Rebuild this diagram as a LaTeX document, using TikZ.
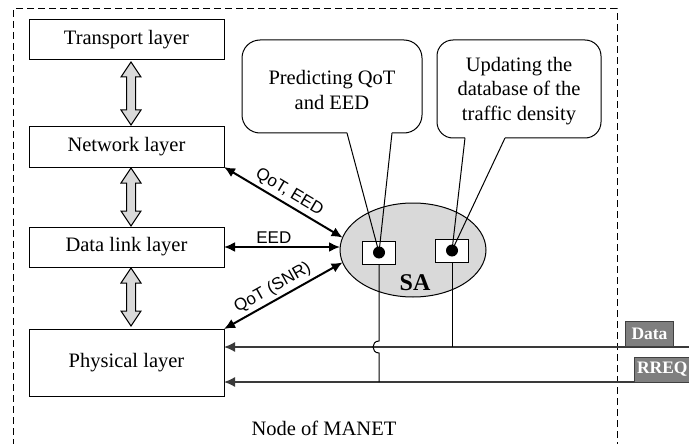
\documentclass[tikz,border=0pt]{standalone}
\usepackage{fontspec}
\setmainfont{Liberation Serif}
\newfontfamily\labfont{Liberation Sans}
\usetikzlibrary{arrows.meta,shapes.geometric}
\definecolor{lgray}{HTML}{D9D9D9}
\definecolor{tgray}{HTML}{7F7F7F}
\definecolor{lgrey}{HTML}{3A3A3A}
\begin{document}
\begin{tikzpicture}[x=1pt,y=-1pt,
  every node/.style={inner sep=0pt, outer sep=0pt, font=\fontsize{20.5}{24.5}\selectfont},
  layer/.style={draw, line width=1pt, minimum width=195pt},
  sarrow/.style={line width=2pt, {Latex[length=11pt,width=10pt]}-{Latex[length=11pt,width=10pt]}},
  inarrow/.style={line width=1.5pt, draw=lgrey, -{Latex[length=11pt,width=10pt]}},
  lab/.style={font=\labfont\fontsize{17}{19}\selectfont, sloped, above=4pt},
  tagbox/.style={fill=tgray, draw=black!75, line width=1pt, text=white, anchor=north west,
    font=\bfseries\fontsize{17.5}{20}\selectfont, minimum height=25pt},
  dblarrow/.style={draw, line width=1pt, fill=lgray},
  bubble/.style={draw, line width=1pt},
  smallbox/.style={draw, line width=1pt, fill=white, minimum width=33pt, minimum height=23pt},
  dotnode/.style={circle, fill=black, minimum size=12pt},
  wire/.style={line width=1pt}
]
\useasboundingbox (0,0) rectangle (689,444);

% dashed boundary
\draw[dashed, dash pattern=on 7pt off 4pt, line width=1pt] (617,460) -- (617,9) -- (13,9) -- (13,460);

% layers
\node[layer, minimum height=40pt] (tr) at (126.5,40) {Transport layer};
\node[layer, minimum height=40pt] (net) at (126.5,147) {Network layer};
\node[layer, minimum height=40pt] (dl) at (126.5,247) {Data link layer};
\node[layer, minimum height=67pt] (phy) at (126.5,362.5) {Physical layer};

% double arrows between layers
\foreach \ya/\yb in {62/125, 168/226, 268/326}{
  \draw[dblarrow] (131,\ya) -- (141,\ya+15) -- (135.5,\ya+15) -- (135.5,\yb-15) -- (141,\yb-15)
    -- (131,\yb) -- (121,\yb-15) -- (126.5,\yb-15) -- (126.5,\ya+15) -- (121,\ya+15) -- cycle;
}

% SA ellipse
\node[ellipse, draw, line width=1pt, fill=lgray, minimum width=146pt, minimum height=94pt] (sa) at (413,250) {};
\node[font=\bfseries\fontsize{24}{26}\selectfont] (salab) at (415,283) {SA};

% small boxes
\node[smallbox] (b1) at (379,252.5) {};
\node[smallbox] (b2) at (452,250.5) {};

% bubbles
\coordinate (t1) at (379,252.5);
\coordinate (t2) at (452,250.5);
\draw[bubble, rounded corners=18pt] (347,133) -- (242,133) -- (242,40) -- (422,40) -- (422,133) -- (392,133);
\draw[bubble] (347,133) -- (t1) -- (392,133);
\draw[bubble, rounded corners=16pt] (465,138) -- (437,138) -- (437,40) -- (601,40) -- (601,138) -- (505,138);
\draw[bubble] (465,138) -- (t2) -- (505,138);
\node[align=center] (bt1) at (332,90) {Predicting QoT\\and EED};
\node[align=center] (bt2) at (519,91) {Updating the\\database of the\\traffic density};

\node[dotnode] (d1) at (379,252.5) {};
\node[dotnode] (d2) at (452,250.5) {};

% arrows to SA
\draw[sarrow] (net.south east) -- (sa.170) node[lab, midway] {QoT, EED};
\draw[sarrow] (dl.east |- 0,247) -- (sa.west |- 0,247) node[lab, pos=0.43] {EED};
\draw[sarrow] (phy.north east) -- (sa.190) node[lab, pos=0.46] {QoT (SNR)};

% incoming lines
\coordinate (dataR) at (700,347);
\coordinate (rreqR) at (700,382);
\draw[inarrow] (dataR) -- (phy.east |- dataR);
\draw[inarrow] (rreqR) -- (phy.east |- rreqR);

% vertical wires
\coordinate (hopA) at (379,341);
\coordinate (hopB) at (379,353);
\draw[wire] (b1.south) -- (hopA) .. controls (371,341) and (371,353) .. (hopB) -- (b1.south |- rreqR);
\draw[wire] (b2.south) -- (b2.south |- dataR);

% tags
\node[tagbox, inner xsep=6.5pt] (datatag) at (625,321) {Data};
\node[tagbox, inner xsep=3pt] (rreqtag) at (634,357) {RREQ};

\node (cap) at (324,428) {Node of MANET};
\end{tikzpicture}
\end{document}
